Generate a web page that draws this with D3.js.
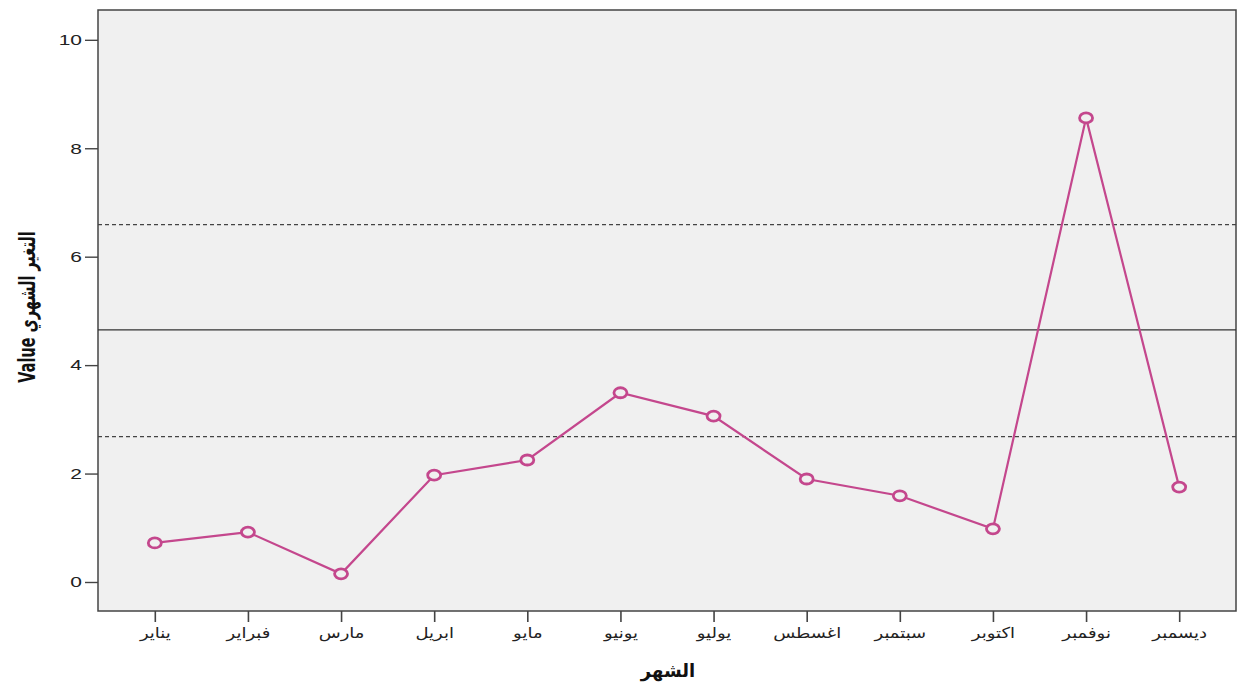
<!DOCTYPE html>
<html><head><meta charset="utf-8">
<script src="https://cdn.jsdelivr.net/npm/d3@7"></script>
<style>body{margin:0;background:#fff}svg{display:block}</style>
</head><body>
<svg id="chart" width="1240" height="684"></svg>
<script>
const months = ["يناير","فبراير","مارس","ابريل","مايو","يونيو","يوليو","اغسطس","سبتمبر","اكتوبر","نوفمبر","ديسمبر"];
const values = [0.72,0.92,0.15,1.97,2.25,3.49,3.06,1.90,1.59,0.98,8.56,1.75];
const centerLine = [4.65];
const limitLines = [6.59,2.68];
const yTicks = [0,2,4,6,8,10];
const yTitle = "Value التغير الشهري";
const xTitle = "الشهر";

const svg = d3.select("#chart");
const m = {l:98, r:4, t:10, b:73};
const W = 1240, H = 684;
const x = d3.scalePoint().domain(months).range([m.l, W-m.r]).padding(0.61);
const y = d3.scaleLinear().domain([-0.535, 10.55]).range([H-m.b, m.t]);

svg.append("rect").attr("x",m.l).attr("y",m.t).attr("width",W-m.r-m.l).attr("height",H-m.b-m.t)
  .attr("fill","#f0f0f0").attr("stroke","#444").attr("stroke-width",1.5);

const fontNum = "'Liberation Sans', Arial, sans-serif";
const fontAr = "'DejaVu Sans', 'Liberation Sans', sans-serif";

const sxNum = 1.4;
const ya = svg.append("g").attr("transform",`translate(${m.l},0)`)
  .call(d3.axisLeft(y).tickValues(yTicks).tickSize(13).tickPadding(3).tickFormat(d3.format("d")));
ya.select(".domain").remove();
ya.selectAll("line").attr("stroke","#444").attr("stroke-width",1.4);
ya.selectAll("text").attr("font-family",fontNum).attr("font-size",15).attr("fill","#222")
  .attr("x",-16/sxNum).attr("transform",`scale(${sxNum},1)`);

const sxAr = 1.2;
const xa = svg.append("g").attr("transform",`translate(0,${H-m.b})`)
  .call(d3.axisBottom(x).tickSize(11).tickPadding(5));
xa.select(".domain").remove();
xa.selectAll("line").attr("stroke","#444").attr("stroke-width",1.6);
xa.selectAll(".tick text").attr("font-family",fontAr).attr("font-size",15).attr("fill","#222")
  .attr("transform",`scale(${sxAr},1)`);

// reference lines
svg.selectAll("line.center").data(centerLine).join("line").attr("class","center")
  .attr("x1",m.l).attr("x2",W-m.r).attr("y1",d=>y(d)).attr("y2",d=>y(d))
  .attr("stroke","#333").attr("stroke-width",1.2);
svg.selectAll("line.limit").data(limitLines).join("line").attr("class","limit")
  .attr("x1",m.l).attr("x2",W-m.r).attr("y1",d=>y(d)).attr("y2",d=>y(d))
  .attr("stroke","#444").attr("stroke-width",1.2).attr("stroke-dasharray","4,3");

const col = "#c4478d";
const data = months.map((mo,i)=>({mo, v: values[i]}));
svg.append("path").datum(data)
  .attr("d", d3.line().x(d=>x(d.mo)).y(d=>y(d.v)))
  .attr("fill","none").attr("stroke",col).attr("stroke-width",2.2);
svg.selectAll("ellipse.pt").data(data).join("ellipse").attr("class","pt")
  .attr("cx",d=>x(d.mo)).attr("cy",d=>y(d.v)).attr("rx",6.5).attr("ry",5)
  .attr("fill","#f0f0f0").attr("stroke",col).attr("stroke-width",2.8);

svg.append("text").attr("transform",`translate(35,${307}) rotate(-90) scale(0.85,1.3)`)
  .attr("text-anchor","middle").attr("font-family",fontAr).attr("font-weight","bold")
  .attr("font-size",17).attr("fill","#111").attr("direction","ltr").text(yTitle);
svg.append("text").attr("x",668).attr("y",677).attr("text-anchor","middle")
  .attr("font-family",fontAr).attr("font-weight","bold").attr("font-size",18).attr("fill","#111").text(xTitle);
</script>
</body></html>
